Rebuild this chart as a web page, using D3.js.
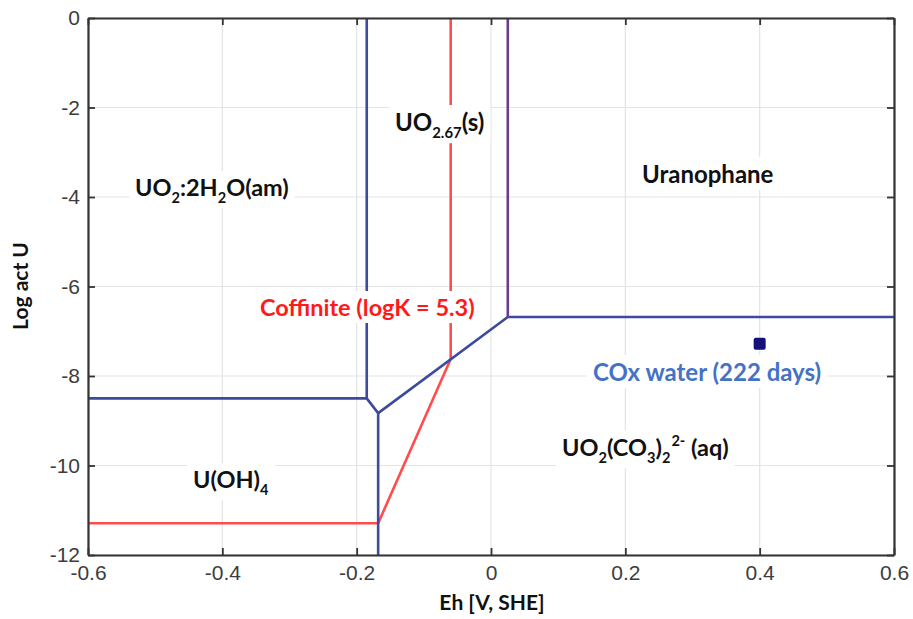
<!DOCTYPE html>
<html lang="en">
<head>
<meta charset="UTF-8"/>
<title>Uranium Eh - log activity diagram</title>
<script src="https://d3js.org/d3.v7.min.js"></script>
<style>
  body { margin: 0; background: #fff; }
  svg { display: block; }
</style>
</head>
<body>
<script>
    // axis ranges and ticks
    var xDomain = [-0.6, 0.6];
    var yDomain = [-12, 0];
    var xTicks = [-0.6, -0.4, -0.2, 0, 0.2, 0.4, 0.6];
    var yTicks = [0, -2, -4, -6, -8, -10, -12];

    // stability field boundaries, [Eh, log act U]
    var blueUpperLeft = [[-0.6, -8.5], [-0.185, -8.5], [-0.185, 0]];
    var blueLowerLeft = [[-0.185, -8.5], [-0.168, -8.83], [-0.168, -12]];
    var blueRight = [[-0.168, -8.83], [0.025, -6.68], [0.6, -6.68]];
    var purpleVertical = [[0.025, -6.68], [0.025, 0]];
    var coffinite = [[-0.6, -11.29], [-0.168, -11.29], [-0.06, -7.62], [-0.06, 0]];

    // measured water sample
    var coxPoint = [[0.4, -7.28]];

    //define dimensions and margins
    var w = 913;
    var h = 619;
    var margin = {top: 18, right: 19, bottom: 64, left: 88};

    var xScale = d3.scaleLinear()
        .domain(xDomain)
        .range([margin.left, w - margin.right]);

    var yScale = d3.scaleLinear()
        .domain(yDomain)
        .range([h - margin.bottom, margin.top]);

    var svg = d3.select("body")
        .append("svg")
        .attr("width", w)
        .attr("height", h);

    //grid lines
    svg.append("g")
        .selectAll("line.vx")
        .data(xTicks)
        .enter()
        .append("line")
        .attr("x1", function (d) { return xScale(d); })
        .attr("x2", function (d) { return xScale(d); })
        .attr("y1", yScale(yDomain[0]))
        .attr("y2", yScale(yDomain[1]))
        .attr("stroke", "#e4e4e4")
        .attr("stroke-width", 1.2);

    svg.append("g")
        .selectAll("line.hy")
        .data(yTicks)
        .enter()
        .append("line")
        .attr("y1", function (d) { return yScale(d); })
        .attr("y2", function (d) { return yScale(d); })
        .attr("x1", xScale(xDomain[0]))
        .attr("x2", xScale(xDomain[1]))
        .attr("stroke", "#e4e4e4")
        .attr("stroke-width", 1.2);

    //boundary lines
    var line = d3.line()
        .x(function (d) { return xScale(d[0]); })
        .y(function (d) { return yScale(d[1]); });

    var lines = [
        {pts: coffinite, color: "#ff4d4d"},
        {pts: blueUpperLeft, color: "#3d4a9e"},
        {pts: blueLowerLeft, color: "#3d4a9e"},
        {pts: blueRight, color: "#3d4a9e"},
        {pts: purpleVertical, color: "#6a3c8e"}
    ];

    svg.append("g")
        .selectAll("path")
        .data(lines)
        .enter()
        .append("path")
        .attr("d", function (d) { return line(d.pts); })
        .attr("fill", "none")
        .attr("stroke", function (d) { return d.color; })
        .attr("stroke-width", 2.6)
        .attr("stroke-linejoin", "round");

    //data point
    svg.selectAll("rect.pt")
        .data(coxPoint)
        .enter()
        .append("rect")
        .attr("x", function (d) { return xScale(d[0]) - 6; })
        .attr("y", function (d) { return yScale(d[1]) - 6; })
        .attr("width", 12)
        .attr("height", 12)
        .attr("rx", 2)
        .attr("fill", "#12127a");

    //region labels with white boxes behind them
    var labelFont = "Lato, 'Open Sans', sans-serif";
    var labels = [
        {x: 135, y: 196, size: 23.5, color: "#111", parts: [["UO", 0], ["2", 1], [":2H", 0], ["2", 1], ["O(am)", 0]]},
        {x: 395, y: 131, size: 24, color: "#111", parts: [["UO", 0], ["2.67", 1], ["(s)", 0]]},
        {x: 642, y: 183, size: 24, color: "#111", parts: [["Uranophane", 0]]},
        {x: 260, y: 316, size: 23.5, color: "#ff1a1a", parts: [["Coffinite (logK = 5.3)", 0]]},
        {x: 593, y: 381, size: 24, color: "#4472c4", parts: [["COx water (222 days)", 0]]},
        {x: 562, y: 456, size: 23.5, color: "#111", parts: [["UO", 0], ["2", 1], ["(CO", 0], ["3", 1], [")", 0], ["2", 1], ["2-", 2], [" (aq)", 0]]},
        {x: 193, y: 488, size: 23.5, color: "#111", parts: [["U(OH)", 0], ["4", 1]]}
    ];

    var lg = svg.append("g")
        .selectAll("g")
        .data(labels)
        .enter()
        .append("g");

    var texts = lg.append("text")
        .attr("x", function (d) { return d.x; })
        .attr("y", function (d) { return d.y; })
        .attr("font-family", labelFont)
        .attr("font-weight", "bold")
        .attr("font-size", function (d) { return d.size; })
        .attr("fill", function (d) { return d.color; });

    texts.each(function (d) {
        var t = d3.select(this);
        var shift = 0;
        d.parts.forEach(function (p) {
            var ts = t.append("tspan").text(p[0]);
            var target = p[1] === 1 ? 0.3 * d.size : (p[1] === 2 ? -0.42 * d.size : 0);
            if (p[1] !== 0) ts.attr("font-size", d.size * 0.62);
            if (p[1] === 2) ts.attr("dx", 1);
            ts.attr("dy", target - shift);
            shift = target;
        });
    });

    lg.each(function () {
        var g = d3.select(this);
        var bb = g.select("text").node().getBBox();
        g.insert("rect", "text")
            .attr("x", bb.x - 6)
            .attr("y", bb.y - 2)
            .attr("width", bb.width + 12)
            .attr("height", bb.height + 4)
            .attr("fill", "#fff");
    });

    //axes frame with inward ticks
    var axisColor = "#333";
    var tickFont = "'Liberation Sans', Arial, sans-serif";
    var fmt = function (d) { return d === 0 ? "0" : (Math.abs(d) < 1 ? d.toFixed(1) : String(d)); };

    var xAxis = svg.append("g")
        .attr("transform", "translate(0," + yScale(yDomain[0]) + ")")
        .call(d3.axisBottom(xScale).tickValues(xTicks).tickSizeInner(-7).tickSizeOuter(0).tickFormat(fmt));

    var yAxis = svg.append("g")
        .attr("transform", "translate(" + xScale(xDomain[0]) + ",0)")
        .call(d3.axisLeft(yScale).tickValues(yTicks).tickSizeInner(-7).tickSizeOuter(0).tickFormat(fmt));

    var xTop = svg.append("g")
        .attr("transform", "translate(0," + yScale(yDomain[1]) + ")")
        .call(d3.axisTop(xScale).tickValues(xTicks).tickSizeInner(-7).tickSizeOuter(0).tickFormat(""));

    var yRight = svg.append("g")
        .attr("transform", "translate(" + xScale(xDomain[1]) + ",0)")
        .call(d3.axisRight(yScale).tickValues(yTicks).tickSizeInner(-7).tickSizeOuter(0).tickFormat(""));

    [xAxis, yAxis, xTop, yRight].forEach(function (a) {
        a.select(".domain").attr("stroke", axisColor).attr("stroke-width", 2.2);
        a.selectAll(".tick line").attr("stroke", axisColor).attr("stroke-width", 1.8);
        a.selectAll(".tick text")
            .attr("font-family", tickFont)
            .attr("font-size", 21)
            .attr("fill", "#3c3c3c");
    });

    xAxis.selectAll(".tick text").attr("y", 10);
    yAxis.selectAll(".tick text").attr("x", -8);

    //axis titles
    svg.append("text")
        .text("Eh [V, SHE]")
        .attr("x", 492)
        .attr("y", 610)
        .attr("text-anchor", "middle")
        .attr("font-family", labelFont)
        .attr("font-weight", "bold")
        .attr("font-size", 21)
        .attr("fill", "#111");

    svg.append("text")
        .text("Log act U")
        .attr("transform", "translate(28,286) rotate(-90)")
        .attr("text-anchor", "middle")
        .attr("font-family", labelFont)
        .attr("font-weight", "bold")
        .attr("font-size", 21)
        .attr("fill", "#111");
</script>
</body>
</html>
